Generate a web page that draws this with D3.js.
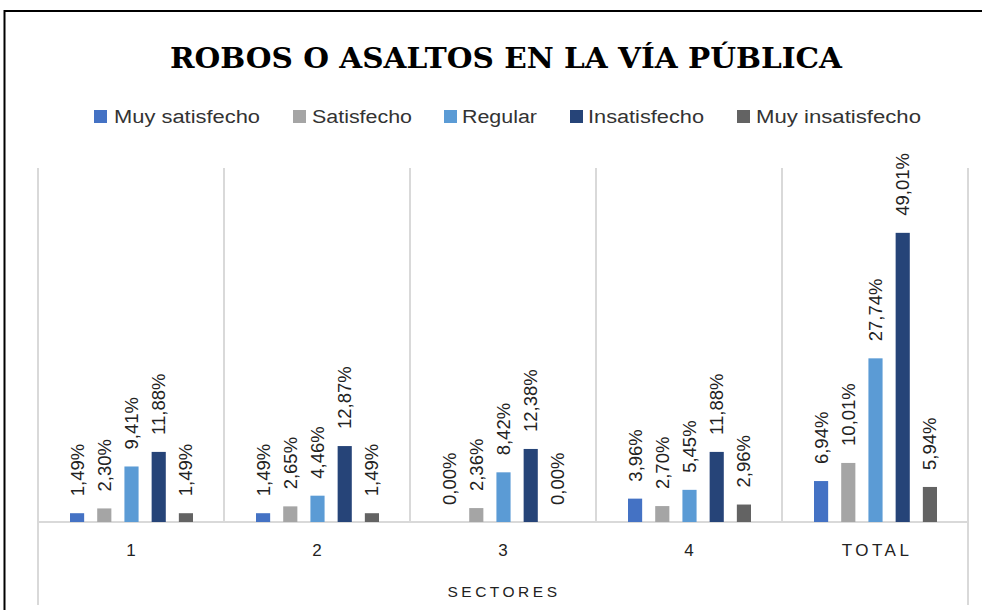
<!DOCTYPE html>
<html><head><meta charset="utf-8">
<script src="https://cdn.jsdelivr.net/npm/d3@7"></script>
<style>
html,body{margin:0;padding:0;background:#fff;}
svg{display:block;}
</style></head>
<body><svg id="chart" width="982" height="610"></svg>
<script>
const categories = ["1", "2", "3", "4", "TOTAL"];
const seriesNames = ["Muy satisfecho", "Satisfecho", "Regular", "Insatisfecho", "Muy insatisfecho"];
const muySatisfecho   = [1.49, 1.49, 0.00, 3.96, 6.94];
const satisfecho      = [2.30, 2.65, 2.36, 2.70, 10.01];
const regular         = [9.41, 4.46, 8.42, 5.45, 27.74];
const insatisfecho    = [11.88, 12.87, 12.38, 11.88, 49.01];
const muyInsatisfecho = [1.49, 1.49, 0.00, 2.96, 5.94];
const seriesValues = [muySatisfecho, satisfecho, regular, insatisfecho, muyInsatisfecho];
const colors = ["#4472C4", "#A5A5A5", "#5B9BD5", "#264478", "#636363"];
const title = "ROBOS O ASALTOS EN LA VÍA PÚBLICA";
const axisTitle = "SECTORES";

const svg = d3.select("#chart");
const W = 982, H = 610;
const plot = {left: 38, right: 968, top: 168, bottom: 522};

// frame lines
svg.append("line").attr("x1", 4.5).attr("x2", 4.5).attr("y1", 10).attr("y2", H).attr("stroke", "#000").attr("stroke-width", 2);
svg.append("line").attr("x1", 4).attr("x2", W).attr("y1", 11).attr("y2", 11).attr("stroke", "#000").attr("stroke-width", 2);

// title
svg.append("text").attr("x", 506).attr("y", 68).attr("text-anchor", "middle")
  .attr("font-family", "DejaVu Serif").attr("font-weight", "bold").attr("font-size", 27)
  .attr("textLength", 672).attr("lengthAdjust", "spacingAndGlyphs")
  .text(title);

// legend
const legendMarkX = [94, 293, 444, 570, 737];
const legendTextX = [114, 312, 462, 588, 756];
const legendTextW = [146, 100, 75, 116, 165];
const lg = svg.append("g");
seriesNames.forEach((s, i) => {
  lg.append("rect").attr("x", legendMarkX[i]).attr("y", 110).attr("width", 13).attr("height", 13).attr("fill", colors[i]);
  lg.append("text").attr("x", legendTextX[i]).attr("y", 123)
    .attr("font-family", "Liberation Sans, sans-serif").attr("font-size", 18).attr("fill", "#333")
    .attr("textLength", legendTextW[i]).attr("lengthAdjust", "spacingAndGlyphs")
    .text(s);
});

const x0 = d3.scaleBand().domain(categories).range([plot.left, plot.right]).padding(0);
const x1 = d3.scaleBand().domain(seriesNames).range([32, 155]).paddingInner(0.48).paddingOuter(0);
const y = d3.scaleLinear().domain([0, 60]).range([plot.bottom, plot.top]);

// gridlines (category separators)
const grid = svg.append("g").attr("stroke", "#d9d9d9").attr("stroke-width", 2);
categories.forEach((c, i) => {
  const xx = x0(c);
  grid.append("line").attr("x1", xx).attr("x2", xx).attr("y1", plot.top).attr("y2", i === 0 ? 605 : plot.bottom);
});
grid.append("line").attr("x1", plot.right).attr("x2", plot.right).attr("y1", plot.top).attr("y2", 605);
grid.append("line").attr("x1", plot.left).attr("x2", plot.right).attr("y1", plot.bottom).attr("y2", plot.bottom);

// bars
const fmt = v => v.toFixed(2).replace(".", ",") + "%";
categories.forEach((c, ci) => {
  const g = svg.append("g").attr("transform", `translate(${x0(c)},0)`);
  seriesNames.forEach((s, si) => {
    const v = seriesValues[si][ci];
    const bx = x1(s), bw = x1.bandwidth();
    g.append("rect").attr("x", bx).attr("y", y(v)).attr("width", bw).attr("height", y(0) - y(v)).attr("fill", colors[si]);
    g.append("text")
      .attr("transform", `translate(${bx + bw / 2},${y(v) - 17}) rotate(-90)`)
      .attr("dy", "0.35em").attr("text-anchor", "start")
      .attr("font-family", "Liberation Sans, sans-serif").attr("font-size", 18.5).attr("fill", "#222")
      .text(fmt(v));
  });
});

// category axis labels
categories.forEach(c => {
  svg.append("text").attr("x", x0(c) + x0.bandwidth() / 2 + (c === "TOTAL" ? 2 : 0)).attr("y", 556).attr("text-anchor", "middle")
    .attr("font-family", "Liberation Sans, sans-serif").attr("font-size", 17).attr("fill", "#222")
    .attr("letter-spacing", c === "TOTAL" ? 3.5 : 0)
    .text(c);
});

svg.append("text").attr("x", 504).attr("y", 597).attr("text-anchor", "middle")
  .attr("font-family", "Liberation Sans, sans-serif").attr("font-size", 15.5).attr("fill", "#222")
  .attr("letter-spacing", 3.5)
  .text(axisTitle);
</script></body></html>
